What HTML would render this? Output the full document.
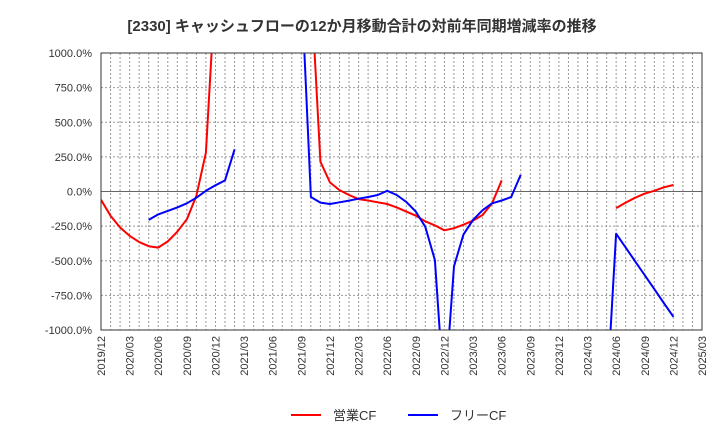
<!DOCTYPE html>
<html><head><meta charset="utf-8"><style>
body{margin:0;background:#fff}
text{font-family:"Liberation Sans","Noto Sans CJK JP",sans-serif}
</style></head><body>
<svg id="c" width="720" height="440" xmlns="http://www.w3.org/2000/svg">
<defs><clipPath id="cp"><rect x="101" y="53" width="601" height="277"/></clipPath></defs>
<text x="362" y="31" text-anchor="middle" font-size="15" font-weight="bold" fill="#333">[2330]  キャッシュフローの12か月移動合計の対前年同期増減率の推移</text>
<g id="grid"></g><g id="axes"></g>
<g clip-path="url(#cp)" id="series"></g>
<rect x="101" y="53" width="601" height="277" fill="none" stroke="#333" stroke-width="1"/>
<g>
<line x1="291" y1="415" x2="321" y2="415" stroke="#f00" stroke-width="2"/>
<text x="333" y="420" font-size="13" fill="#333">営業CF</text>
<line x1="408" y1="415" x2="438" y2="415" stroke="#00f" stroke-width="2"/>
<text x="450" y="420" font-size="13" fill="#333">フリーCF</text>
</g>
</svg>
<script>
const ticksY=[1000,750,500,250,0,-250,-500,-750,-1000];
const tickLabelsX=["2019/12","2020/03","2020/06","2020/09","2020/12","2021/03","2021/06","2021/09","2021/12","2022/03","2022/06","2022/09","2022/12","2023/03","2023/06","2023/09","2023/12","2024/03","2024/06","2024/09","2024/12","2025/03"];
const operatingCF=[-60,-175,-260,-320,-365,-395,-405,-360,-290,-200,-30,280,1500,null,null,null,null,null,null,null,null,null,1500,215,65,10,-25,-55,-65,-78,-90,-115,-145,-175,-215,-245,-280,-265,-240,-210,-170,-85,80,null,null,null,null,null,null,null,null,null,null,null,-120,-80,-45,-15,5,30,47];
const freeCF=[null,null,null,null,null,-205,-165,-140,-115,-85,-45,5,45,80,305,null,null,null,null,null,null,1500,-40,-80,-90,-78,-66,-52,-40,-25,5,-25,-75,-145,-255,-495,-1500,-540,-310,-205,-135,-85,-65,-40,120,null,null,null,null,null,null,null,null,-1500,-305,-405,-505,-605,-705,-805,-905];
const NS="http://www.w3.org/2000/svg";
const X0=101,X1=702,Y0=53,Y1=330,NM=63;
const xs=m=>X0+m*(X1-X0)/NM;
const ys=v=>Y1-(v+1000)*(Y1-Y0)/2000;
function mk(t,a,p){const e=document.createElementNS(NS,t);for(const k in a)e.setAttribute(k,a[k]);p.appendChild(e);return e;}
const grid=document.getElementById('grid'),axes=document.getElementById('axes'),ser=document.getElementById('series');
for(let m=1;m<NM;m++){const l=mk('line',{x1:xs(m),x2:xs(m),y1:Y0,y2:Y1,stroke:'#999','stroke-dasharray':'2,2','stroke-width':1},grid);

}
ticksY.forEach(v=>{const y=ys(v);
const l=mk('line',{x1:X0,x2:X1,y1:y,y2:y,stroke:v===0?'#666':'#999','stroke-dasharray':v===0?'':'2,2','stroke-width':1},grid);


const t=mk('text',{x:92,y:y+4,'text-anchor':'end','font-size':11,fill:'#333'},axes);t.textContent=v.toFixed(1)+'%';

});
tickLabelsX.forEach((s,i)=>{const x=xs(i*3);
const t=mk('text',{x:0,y:0,'text-anchor':'end','font-size':11,fill:'#333',transform:`translate(${x+4},336) rotate(-90)`},axes);t.textContent=s;

});
function draw(arr,col,name){let d='',pen=false;arr.forEach((v,i)=>{if(v===null){pen=false;return;}d+=(pen?'L':'M')+xs(i).toFixed(1)+','+ys(v).toFixed(1);pen=true;});
const p=mk('path',{d:d,fill:'none',stroke:col,'stroke-width':2,'stroke-linejoin':'round'},ser);

}
draw(operatingCF,'#f00','operating-cf-line');
draw(freeCF,'#00f','free-cf-line');
</script>
</body></html>
